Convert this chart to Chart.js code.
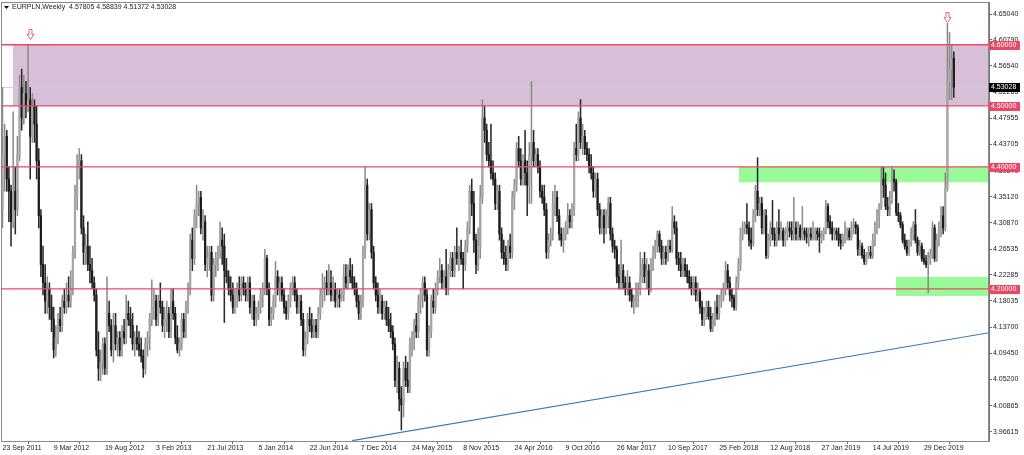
<!DOCTYPE html>
<html>
<head>
<meta charset="utf-8">
<script src="https://cdn.jsdelivr.net/npm/chart.js@4.4.1/dist/chart.umd.min.js"></script>
<style>
  html, body { margin: 0; padding: 0; background: #fff; overflow: hidden; }
  canvas { display: block; }
</style>
</head>
<body>
<canvas id="chart" width="1024" height="455"></canvas>
<script>
// EURPLN weekly candles (bar 0 = 23 Sep 2011)
const symbolTitle = 'EURPLN,Weekly  4.57805 4.58839 4.51372 4.53028';
const dateLabels = ['23 Sep 2011', '9 Mar 2012', '19 Aug 2012', '3 Feb 2013', '21 Jul 2013', '5 Jan 2014',
  '22 Jun 2014', '7 Dec 2014', '24 May 2015', '8 Nov 2015', '24 Apr 2016', '9 Oct 2016', '26 Mar 2017',
  '10 Sep 2017', '25 Feb 2018', '12 Aug 2018', '27 Jan 2019', '14 Jul 2019', '29 Dec 2019'];
const barsPerLabel = 24;

const opens = [
  4.33,4.42,4.45,4.38,4.36,4.31,4.36,4.33,4.42,4.53,
  4.48,4.52,4.50,4.51,4.45,4.50,4.47,4.41,4.32,4.24,
  4.21,4.18,4.20,4.17,4.15,4.10,4.12,4.15,4.14,4.18,
  4.17,4.19,4.18,4.20,4.26,4.35,4.40,4.41,4.30,4.26,
  4.27,4.24,4.23,4.21,4.19,4.10,4.07,4.08,4.11,4.07,
  4.16,4.14,4.10,4.14,4.11,4.12,4.10,4.13,4.12,4.16,
  4.15,4.14,4.11,4.12,4.11,4.10,4.09,4.07,4.11,4.12,
  4.15,4.17,4.18,4.15,4.18,4.17,4.14,4.15,4.16,4.13,
  4.18,4.16,4.12,4.10,4.11,4.15,4.13,4.17,4.20,4.28,
  4.25,4.32,4.34,4.35,4.30,4.31,4.24,4.25,4.26,4.19,
  4.24,4.25,4.26,4.28,4.27,4.23,4.22,4.20,4.19,4.17,
  4.19,4.20,4.19,4.21,4.20,4.19,4.21,4.17,4.18,4.15,
  4.16,4.17,4.19,4.20,4.25,4.20,4.15,4.16,4.18,4.22,
  4.20,4.21,4.19,4.17,4.16,4.18,4.20,4.21,4.19,4.17,
  4.18,4.15,4.10,4.12,4.15,4.14,4.13,4.14,4.13,4.16,
  4.19,4.20,4.21,4.20,4.21,4.19,4.20,4.18,4.19,4.185,
  4.19,4.22,4.21,4.23,4.22,4.21,4.20,4.18,4.16,4.18,
  4.26,4.37,4.29,4.33,4.26,4.21,4.19,4.17,4.18,4.16,
  4.17,4.15,4.14,4.13,4.11,4.05,4.07,4.02,4.01,4.07,
  4.05,4.04,4.11,4.12,4.14,4.13,4.18,4.19,4.21,4.19,
  4.10,4.13,4.18,4.17,4.20,4.22,4.23,4.21,4.22,4.20,
  4.23,4.25,4.23,4.26,4.25,4.26,4.25,4.24,4.27,4.30,
  4.36,4.34,4.28,4.24,4.27,4.35,4.48,4.46,4.42,4.41,
  4.39,4.38,4.34,4.36,4.29,4.26,4.25,4.24,4.27,4.26,
  4.35,4.37,4.43,4.41,4.38,4.41,4.39,4.37,4.42,4.44,
  4.41,4.42,4.40,4.36,4.35,4.33,4.26,4.28,4.29,4.34,
  4.35,4.32,4.29,4.28,4.29,4.30,4.32,4.31,4.33,4.43,
  4.42,4.48,4.44,4.45,4.43,4.42,4.40,4.39,4.36,4.38,
  4.33,4.30,4.32,4.30,4.32,4.34,4.29,4.27,4.265,4.22,
  4.21,4.23,4.21,4.20,4.21,4.19,4.18,4.185,4.19,4.20,
  4.22,4.24,4.22,4.23,4.20,4.24,4.26,4.27,4.29,4.27,
  4.25,4.26,4.25,4.27,4.265,4.31,4.30,4.25,4.24,4.23,
  4.24,4.23,4.22,4.21,4.20,4.21,4.19,4.195,4.17,4.15,
  4.16,4.17,4.155,4.135,4.15,4.17,4.16,4.18,4.19,4.20,
  4.23,4.21,4.19,4.185,4.17,4.21,4.24,4.29,4.30,4.305,
  4.30,4.28,4.275,4.32,4.36,4.33,4.34,4.30,4.32,4.255,
  4.28,4.30,4.29,4.28,4.30,4.29,4.295,4.28,4.29,4.30,
  4.295,4.29,4.30,4.29,4.30,4.285,4.295,4.29,4.285,4.29,
  4.285,4.29,4.295,4.29,4.285,4.29,4.295,4.335,4.31,4.30,
  4.29,4.295,4.29,4.28,4.275,4.285,4.29,4.295,4.285,4.30,
  4.305,4.30,4.265,4.27,4.255,4.245,4.255,4.26,4.255,4.28,
  4.30,4.32,4.335,4.38,4.37,4.335,4.33,4.345,4.38,4.375,
  4.325,4.32,4.305,4.28,4.27,4.26,4.275,4.29,4.305,4.28,
  4.26,4.27,4.25,4.245,4.24,4.25,4.255,4.30,4.25,4.28,
  4.30,4.32,4.30,4.365,4.54,4.56,4.57805
];
const highs = [
  4.53,4.47,4.46,4.40,4.37,4.49,4.40,4.45,4.55,4.56,
  4.55,4.54,4.60,4.53,4.52,4.51,4.50,4.43,4.33,4.27,
  4.24,4.22,4.21,4.19,4.17,4.14,4.16,4.17,4.19,4.20,
  4.21,4.22,4.23,4.27,4.37,4.42,4.43,4.42,4.32,4.29,
  4.31,4.27,4.25,4.22,4.20,4.13,4.10,4.12,4.12,4.22,
  4.18,4.15,4.16,4.16,4.13,4.13,4.14,4.15,4.19,4.18,
  4.17,4.16,4.13,4.14,4.13,4.12,4.10,4.12,4.13,4.16,
  4.215,4.20,4.19,4.19,4.21,4.18,4.17,4.18,4.17,4.20,
  4.20,4.17,4.14,4.12,4.16,4.16,4.18,4.21,4.29,4.30,
  4.33,4.37,4.36,4.36,4.33,4.32,4.27,4.27,4.27,4.25,
  4.26,4.27,4.31,4.30,4.29,4.25,4.23,4.22,4.21,4.20,
  4.21,4.22,4.22,4.22,4.21,4.22,4.22,4.19,4.19,4.17,
  4.18,4.20,4.21,4.265,4.255,4.21,4.17,4.19,4.245,4.23,
  4.22,4.22,4.20,4.18,4.19,4.21,4.22,4.22,4.20,4.19,
  4.19,4.16,4.13,4.16,4.17,4.16,4.15,4.15,4.17,4.20,
  4.225,4.22,4.23,4.24,4.23,4.22,4.21,4.20,4.20,4.20,
  4.24,4.24,4.24,4.25,4.24,4.22,4.21,4.19,4.19,4.27,
  4.40,4.38,4.34,4.34,4.27,4.22,4.21,4.20,4.19,4.18,
  4.18,4.17,4.16,4.14,4.12,4.09,4.08,4.04,4.08,4.09,
  4.08,4.12,4.13,4.15,4.16,4.19,4.20,4.22,4.22,4.20,
  4.14,4.19,4.20,4.21,4.23,4.25,4.24,4.23,4.265,4.24,
  4.26,4.26,4.27,4.30,4.27,4.28,4.26,4.28,4.31,4.37,
  4.38,4.36,4.29,4.30,4.37,4.51,4.50,4.47,4.44,4.47,
  4.41,4.39,4.37,4.37,4.30,4.28,4.27,4.28,4.29,4.36,
  4.38,4.44,4.45,4.43,4.42,4.46,4.41,4.44,4.54,4.46,
  4.43,4.43,4.41,4.37,4.37,4.34,4.29,4.30,4.36,4.37,
  4.36,4.33,4.30,4.30,4.31,4.34,4.33,4.34,4.44,4.47,
  4.49,4.51,4.47,4.46,4.44,4.43,4.42,4.40,4.39,4.39,
  4.34,4.33,4.33,4.33,4.35,4.35,4.30,4.28,4.27,4.24,
  4.28,4.24,4.22,4.23,4.22,4.20,4.19,4.21,4.21,4.26,
  4.25,4.26,4.25,4.24,4.25,4.27,4.28,4.295,4.295,4.28,
  4.27,4.27,4.28,4.28,4.335,4.32,4.31,4.26,4.26,4.25,
  4.25,4.24,4.23,4.22,4.22,4.22,4.21,4.20,4.18,4.17,
  4.18,4.18,4.17,4.16,4.18,4.19,4.19,4.20,4.21,4.245,
  4.24,4.22,4.20,4.19,4.22,4.25,4.30,4.31,4.31,4.34,
  4.31,4.30,4.33,4.37,4.415,4.35,4.35,4.33,4.33,4.29,
  4.31,4.345,4.30,4.31,4.33,4.31,4.30,4.30,4.31,4.31,
  4.31,4.35,4.31,4.31,4.305,4.335,4.30,4.30,4.30,4.30,
  4.31,4.30,4.30,4.30,4.295,4.30,4.345,4.34,4.32,4.31,
  4.30,4.30,4.30,4.29,4.29,4.31,4.30,4.30,4.31,4.315,
  4.31,4.305,4.28,4.275,4.265,4.26,4.27,4.27,4.29,4.31,
  4.33,4.34,4.40,4.40,4.39,4.35,4.36,4.40,4.395,4.38,
  4.34,4.325,4.31,4.29,4.28,4.28,4.30,4.31,4.33,4.285,
  4.28,4.275,4.265,4.255,4.26,4.265,4.31,4.305,4.29,4.31,
  4.335,4.335,4.39,4.635,4.62,4.60,4.58839
];
const lows = [
  4.30,4.36,4.36,4.31,4.27,4.30,4.29,4.32,4.41,4.46,
  4.47,4.48,4.49,4.38,4.44,4.44,4.38,4.30,4.22,4.19,
  4.16,4.16,4.15,4.13,4.087,4.09,4.11,4.13,4.13,4.16,
  4.16,4.17,4.17,4.19,4.25,4.33,4.38,4.29,4.24,4.24,
  4.23,4.21,4.20,4.18,4.09,4.05,4.05,4.06,4.06,4.06,
  4.13,4.09,4.08,4.10,4.09,4.09,4.09,4.11,4.11,4.14,
  4.12,4.10,4.09,4.10,4.09,4.08,4.055,4.06,4.09,4.10,
  4.14,4.15,4.14,4.14,4.16,4.13,4.12,4.13,4.12,4.12,
  4.15,4.11,4.095,4.09,4.10,4.12,4.12,4.16,4.19,4.23,
  4.24,4.30,4.32,4.29,4.28,4.23,4.22,4.23,4.18,4.18,
  4.22,4.23,4.25,4.24,4.145,4.21,4.19,4.18,4.16,4.16,
  4.17,4.18,4.18,4.19,4.18,4.18,4.16,4.15,4.14,4.14,
  4.15,4.16,4.17,4.19,4.19,4.14,4.14,4.15,4.17,4.19,
  4.18,4.18,4.16,4.15,4.15,4.17,4.19,4.18,4.16,4.16,
  4.14,4.09,4.09,4.11,4.13,4.12,4.12,4.12,4.12,4.15,
  4.17,4.18,4.19,4.19,4.18,4.18,4.17,4.17,4.17,4.18,
  4.18,4.20,4.20,4.21,4.20,4.19,4.17,4.15,4.15,4.17,
  4.25,4.28,4.28,4.25,4.20,4.18,4.16,4.16,4.15,4.15,
  4.14,4.13,4.12,4.10,4.04,4.03,4.00,3.969,3.99,4.04,
  4.03,4.03,4.09,4.10,4.12,4.12,4.16,4.17,4.18,4.09,
  4.09,4.12,4.16,4.16,4.19,4.21,4.20,4.20,4.19,4.19,
  4.22,4.22,4.22,4.24,4.23,4.24,4.20,4.23,4.26,4.29,
  4.32,4.26,4.225,4.23,4.25,4.34,4.44,4.41,4.40,4.38,
  4.37,4.33,4.33,4.28,4.25,4.24,4.23,4.23,4.25,4.25,
  4.33,4.36,4.40,4.37,4.37,4.37,4.32,4.34,4.34,4.40,
  4.40,4.39,4.35,4.34,4.32,4.25,4.25,4.27,4.28,4.32,
  4.31,4.28,4.27,4.26,4.28,4.29,4.30,4.30,4.32,4.41,
  4.41,4.43,4.42,4.42,4.41,4.39,4.38,4.35,4.35,4.32,
  4.29,4.29,4.275,4.29,4.30,4.28,4.26,4.25,4.21,4.20,
  4.20,4.20,4.19,4.19,4.18,4.17,4.16,4.17,4.17,4.19,
  4.21,4.21,4.20,4.19,4.195,4.23,4.25,4.26,4.26,4.24,
  4.24,4.24,4.245,4.26,4.26,4.29,4.24,4.23,4.22,4.22,
  4.22,4.21,4.20,4.19,4.19,4.18,4.18,4.16,4.14,4.14,
  4.15,4.15,4.13,4.13,4.14,4.15,4.15,4.17,4.18,4.19,
  4.20,4.18,4.17,4.165,4.165,4.20,4.23,4.28,4.29,4.29,
  4.27,4.265,4.27,4.31,4.32,4.32,4.29,4.29,4.25,4.25,
  4.27,4.28,4.27,4.27,4.28,4.28,4.27,4.27,4.28,4.285,
  4.28,4.28,4.28,4.28,4.28,4.28,4.28,4.275,4.27,4.28,
  4.28,4.28,4.28,4.26,4.275,4.28,4.29,4.30,4.29,4.28,
  4.28,4.28,4.27,4.265,4.27,4.275,4.28,4.28,4.28,4.29,
  4.29,4.255,4.255,4.25,4.24,4.24,4.25,4.25,4.25,4.27,
  4.29,4.30,4.33,4.35,4.33,4.32,4.32,4.34,4.36,4.32,
  4.31,4.30,4.275,4.265,4.255,4.255,4.27,4.28,4.275,4.255,
  4.255,4.245,4.24,4.235,4.193,4.24,4.25,4.245,4.245,4.27,
  4.285,4.29,4.295,4.36,4.51,4.51,4.51372
];
const closes = [
  4.42,4.45,4.38,4.36,4.31,4.36,4.33,4.42,4.53,4.48,
  4.52,4.50,4.51,4.45,4.50,4.47,4.41,4.32,4.24,4.21,
  4.18,4.20,4.17,4.15,4.10,4.12,4.15,4.14,4.18,4.17,
  4.19,4.18,4.20,4.26,4.35,4.40,4.41,4.30,4.26,4.27,
  4.24,4.23,4.21,4.19,4.10,4.07,4.08,4.11,4.07,4.16,
  4.14,4.10,4.14,4.11,4.12,4.10,4.13,4.12,4.16,4.15,
  4.14,4.11,4.12,4.11,4.10,4.09,4.07,4.11,4.12,4.15,
  4.17,4.18,4.15,4.18,4.17,4.14,4.15,4.16,4.13,4.18,
  4.16,4.12,4.10,4.11,4.15,4.13,4.17,4.20,4.28,4.25,
  4.32,4.34,4.35,4.30,4.31,4.24,4.25,4.26,4.19,4.24,
  4.25,4.26,4.28,4.27,4.23,4.22,4.20,4.19,4.17,4.19,
  4.20,4.19,4.21,4.20,4.19,4.21,4.17,4.18,4.15,4.16,
  4.17,4.19,4.20,4.25,4.20,4.15,4.16,4.18,4.22,4.20,
  4.21,4.19,4.17,4.16,4.18,4.20,4.21,4.19,4.17,4.18,
  4.15,4.10,4.12,4.15,4.14,4.13,4.14,4.13,4.16,4.19,
  4.20,4.21,4.20,4.21,4.19,4.20,4.18,4.19,4.185,4.19,
  4.22,4.21,4.23,4.22,4.21,4.20,4.18,4.16,4.18,4.26,
  4.37,4.29,4.33,4.26,4.21,4.19,4.17,4.18,4.16,4.17,
  4.15,4.14,4.13,4.11,4.05,4.07,4.02,4.01,4.07,4.05,
  4.04,4.11,4.12,4.14,4.13,4.18,4.19,4.21,4.19,4.10,
  4.13,4.18,4.17,4.20,4.22,4.23,4.21,4.22,4.20,4.23,
  4.25,4.23,4.26,4.25,4.26,4.25,4.24,4.27,4.30,4.36,
  4.34,4.28,4.24,4.27,4.35,4.48,4.46,4.42,4.41,4.39,
  4.38,4.34,4.36,4.29,4.26,4.25,4.24,4.27,4.26,4.35,
  4.37,4.43,4.41,4.38,4.41,4.39,4.37,4.42,4.44,4.41,
  4.42,4.40,4.36,4.35,4.33,4.26,4.28,4.29,4.34,4.35,
  4.32,4.29,4.28,4.29,4.30,4.32,4.31,4.33,4.43,4.42,
  4.48,4.44,4.45,4.43,4.42,4.40,4.39,4.36,4.38,4.33,
  4.30,4.32,4.30,4.32,4.34,4.29,4.27,4.265,4.22,4.21,
  4.23,4.21,4.20,4.21,4.19,4.18,4.185,4.19,4.20,4.22,
  4.24,4.22,4.23,4.20,4.24,4.26,4.27,4.29,4.27,4.25,
  4.26,4.25,4.27,4.265,4.31,4.30,4.25,4.24,4.23,4.24,
  4.23,4.22,4.21,4.20,4.21,4.19,4.195,4.17,4.15,4.16,
  4.17,4.155,4.135,4.15,4.17,4.16,4.18,4.19,4.20,4.23,
  4.21,4.19,4.185,4.17,4.21,4.24,4.29,4.30,4.305,4.30,
  4.28,4.275,4.32,4.36,4.33,4.34,4.30,4.32,4.255,4.28,
  4.30,4.29,4.28,4.30,4.29,4.295,4.28,4.29,4.30,4.295,
  4.29,4.30,4.29,4.30,4.285,4.295,4.29,4.285,4.29,4.285,
  4.29,4.295,4.29,4.285,4.29,4.295,4.335,4.31,4.30,4.29,
  4.295,4.29,4.28,4.275,4.285,4.29,4.295,4.285,4.30,4.305,
  4.30,4.265,4.27,4.255,4.245,4.255,4.26,4.255,4.28,4.30,
  4.32,4.335,4.38,4.37,4.335,4.33,4.345,4.38,4.375,4.325,
  4.32,4.305,4.28,4.27,4.26,4.275,4.29,4.305,4.28,4.26,
  4.27,4.25,4.245,4.24,4.25,4.255,4.30,4.25,4.28,4.30,
  4.32,4.30,4.365,4.54,4.56,4.578,4.53028
];

// price scale labels as printed by the terminal
const priceTicks = [3.96615, 4.00865, 4.05200, 4.09450, 4.13700, 4.18035, 4.22285, 4.26535, 4.30870,
  4.35120, 4.39370, 4.43705, 4.47955, 4.52285, 4.56540, 4.60790, 4.65040];

// drawn objects
const levelPrices = [4.6, 4.5, 4.4, 4.2];
const lastPrice = 4.53028;
const zoneStartBar = [4.9, 345.3, 418.9];
const zoneLow = [4.5, 4.3747, 4.1885];
const zoneHigh = [4.6, 4.4, 4.2195];
const trendBars = [164, 463];
const trendPrices = [3.9515, 4.1285];
const arrowBars = [13, 443];
const arrowPrices = [4.61, 4.637];

const LEVEL_RED = '#ec4866';
const ZONE_COLORS = ['#d8bfd8', '#98fb98', '#98fb98'];
const FONT = { family: 'Liberation Sans, Arial, sans-serif', size: 7 };

const isBull = i => closes[i] >= opens[i];

const wickData = highs.map((h, i) => ({ x: i, y: [lows[i], h] }));
const bodyData = opens.map((o, i) => ({ x: i, y: [Math.min(o, closes[i]), Math.max(o, closes[i])] }));
const trendData = trendBars.map((b, i) => ({ x: b, y: trendPrices[i] }));

function clipArea(ctx, a) {
  ctx.beginPath();
  ctx.rect(a.left, a.top, a.width, a.height);
  ctx.clip();
}

const backdrop = {
  id: 'backdrop',
  beforeDatasetsDraw(chart) {
    const { ctx, chartArea: a, scales: { x, y } } = chart;
    ctx.save();
    clipArea(ctx, a);
    zoneStartBar.forEach((b, k) => {
      const x0 = x.getPixelForValue(b);
      const y0 = y.getPixelForValue(zoneHigh[k]);
      const y1 = y.getPixelForValue(zoneLow[k]);
      ctx.fillStyle = ZONE_COLORS[k];
      ctx.fillRect(x0, y0, a.right - x0, y1 - y0);
    });
    // bid line
    const yb = Math.round(y.getPixelForValue(lastPrice)) + 0.5;
    ctx.strokeStyle = '#cfcfcf';
    ctx.lineWidth = 1;
    ctx.beginPath(); ctx.moveTo(a.left, yb); ctx.lineTo(a.right, yb); ctx.stroke();
    ctx.restore();
  },
  afterDatasetsDraw(chart) {
    const { ctx, chartArea: a, scales: { y } } = chart;
    ctx.save();
    clipArea(ctx, a);
    ctx.strokeStyle = LEVEL_RED;
    ctx.lineWidth = 1.3;
    levelPrices.forEach(p => {
      const yy = y.getPixelForValue(p);
      ctx.beginPath(); ctx.moveTo(a.left, yy); ctx.lineTo(a.right, yy); ctx.stroke();
    });
    ctx.restore();
  }
};

function priceBox(ctx, yy, left, bg, txt) {
  ctx.fillStyle = bg;
  ctx.fillRect(left, Math.round(yy) - 4, 31, 9);
  ctx.fillStyle = '#fff';
  ctx.font = '7px ' + FONT.family;
  ctx.textAlign = 'left';
  ctx.textBaseline = 'middle';
  ctx.fillText(txt, left + 2, Math.round(yy) + 0.5);
}

const overlay = {
  id: 'overlay',
  afterDraw(chart) {
    const { ctx, chartArea: a, scales: { x, y } } = chart;
    ctx.save();
    // frame
    ctx.strokeStyle = '#8a8a8a';
    ctx.lineWidth = 1;
    ctx.strokeRect(a.left + 0.5, a.top + 0.5, a.width - 1, a.height);

    // arrows
    arrowBars.forEach((b, k) => {
      const cx = Math.round(x.getPixelForValue(b)) + 0.5;
      const ty = Math.round(y.getPixelForValue(arrowPrices[k])) + 0.5;
      ctx.beginPath();
      ctx.moveTo(cx - 1.5, ty - 10);
      ctx.lineTo(cx + 1.5, ty - 10);
      ctx.lineTo(cx + 1.5, ty - 5);
      ctx.lineTo(cx + 3.5, ty - 5);
      ctx.lineTo(cx, ty);
      ctx.lineTo(cx - 3.5, ty - 5);
      ctx.lineTo(cx - 1.5, ty - 5);
      ctx.closePath();
      ctx.fillStyle = '#fff';
      ctx.fill();
      ctx.strokeStyle = '#f0607a';
      ctx.stroke();
    });

    // axis price boxes
    levelPrices.forEach(p => priceBox(ctx, y.getPixelForValue(p), a.right, LEVEL_RED, p.toFixed(5)));
    priceBox(ctx, y.getPixelForValue(lastPrice), a.right, '#000', lastPrice.toFixed(5));

    // title
    ctx.fillStyle = '#000';
    ctx.beginPath();
    ctx.moveTo(4, 6); ctx.lineTo(9, 6); ctx.lineTo(6.5, 9); ctx.closePath(); ctx.fill();
    ctx.fillStyle = '#222';
    ctx.font = '7px ' + FONT.family;
    ctx.textAlign = 'left';
    ctx.textBaseline = 'middle';
    ctx.fillText(symbolTitle, 12, 7.5);
    ctx.restore();
  }
};

new Chart(document.getElementById('chart'), {
  type: 'bar',
  data: {
    datasets: [
      {
        type: 'line', data: trendData, borderColor: '#3a78b8', borderWidth: 1.2,
        pointRadius: 0, order: 0
      },
      {
        data: bodyData, grouped: false, barThickness: 1.6, minBarLength: 1, borderWidth: 0,
        backgroundColor: c => isBull(c.dataIndex) ? '#a6a6a6' : '#1c1c1c', order: 1
      },
      {
        data: wickData, grouped: false, barThickness: 0.9, borderWidth: 0,
        backgroundColor: c => isBull(c.dataIndex) ? '#8c8c8c' : '#2a2a2a', order: 2
      }
    ]
  },
  options: {
    responsive: false,
    animation: false,
    devicePixelRatio: 1,
    layout: { padding: { left: 1, top: 2, right: 0, bottom: 0 } },
    plugins: { legend: { display: false }, tooltip: { enabled: false } },
    scales: {
      x: {
        type: 'linear', min: -0.7, max: 462.5, offset: false, bounds: 'data',
        afterBuildTicks: s => { s.ticks = dateLabels.map((_, k) => ({ value: k * barsPerLabel })); },
        afterFit: s => { s.height = 14; s.paddingLeft = 0; s.paddingRight = 0; },
        ticks: {
          autoSkip: false, maxRotation: 0, minRotation: 0, align: 'start', padding: 0,
          color: '#222', font: FONT,
          callback: v => dateLabels[Math.round(v / barsPerLabel)]
        },
        grid: { drawOnChartArea: false, drawTicks: true, tickLength: 3, tickColor: '#666' },
        border: { display: true, color: '#777' }
      },
      y: {
        type: 'linear', position: 'right', min: 3.95086, max: 4.67006, bounds: 'data',
        afterBuildTicks: s => { s.ticks = priceTicks.map(v => ({ value: v })); },
        afterFit: s => { s.width = 35; s.paddingTop = 0; s.paddingBottom = 0; },
        ticks: { autoSkip: false, padding: 1, color: '#222', font: FONT, callback: v => v.toFixed(5) },
        grid: { drawOnChartArea: false, drawTicks: true, tickLength: 3, tickColor: '#666' },
        border: { display: true, color: '#777' }
      }
    }
  },
  plugins: [backdrop, overlay]
});
</script>
</body>
</html>
